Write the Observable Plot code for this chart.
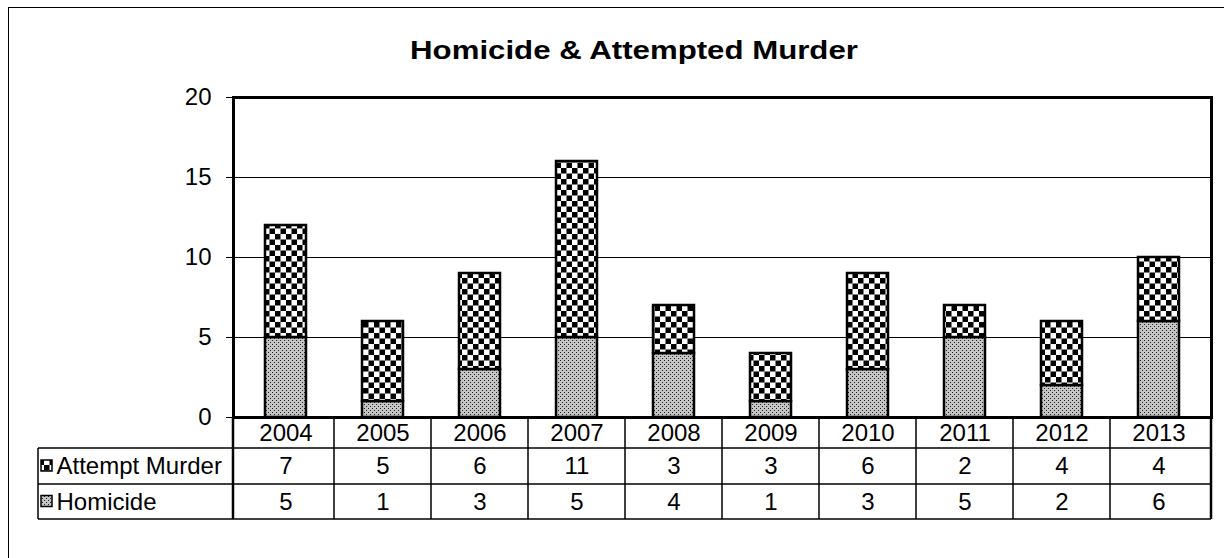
<!DOCTYPE html>
<html><head><meta charset="utf-8">
<script src="https://cdn.jsdelivr.net/npm/d3@7"></script>
<script src="https://cdn.jsdelivr.net/npm/@observablehq/plot@0.6"></script>
<style>
html,body{margin:0;padding:0;background:#fff;overflow:hidden;width:1224px;height:558px;}
#border{position:absolute;left:8px;top:7px;width:1300px;height:700px;border:1px solid #000;box-sizing:border-box;}
#title{position:absolute;top:35px;left:0;width:1268px;line-height:30px;text-align:center;font:bold 26px "Liberation Sans",Arial,sans-serif;color:#000;transform:scaleX(1.2);transform-origin:634px 50%;}
#chart{position:absolute;left:0;top:80px;}
</style></head>
<body>
<div id="border"></div>
<div id="title">Homicide &amp; Attempted Murder</div>
<div id="chart"></div>
<script>
const years = ["2004","2005","2006","2007","2008","2009","2010","2011","2012","2013"];
const seriesNames = ["Homicide","Attempt Murder"];
const homicide = [5,1,3,5,4,1,3,5,2,6];
const attempt = [7,5,6,11,3,3,6,2,4,4];
const yTicks = [0,5,10,15,20];
const gridValues = [5,10,15];
const tableLabels = ["Attempt Murder","Homicide"];

const rows = [];
years.forEach((y,i)=>{
  rows.push({year:y, series:"Homicide", value:homicide[i]});
  rows.push({year:y, series:"Attempt Murder", value:attempt[i]});
});
const homRows = rows.filter(d=>d.series==="Homicide");
const attRows = rows.filter(d=>d.series==="Attempt Murder");

// table row offsets below the frame (pixels)
const rowEdges = [0,31,67,102];
const rowCenter = i => (rowEdges[i]+rowEdges[i+1])/2;
const FONT = "Liberation Sans, Arial, sans-serif";
const FS = 24;

const chart = Plot.plot({
  width:1224, height:478,
  marginLeft:233, marginRight:13, marginTop:17, marginBottom:141,
  style:{fontFamily:FONT, fontSize:FS+"px", color:"#000", background:"transparent"},
  x:{domain:years, paddingInner:0.58, paddingOuter:0.29, axis:null},
  y:{domain:[0,20], axis:null},
  color:{type:"ordinal", domain:seriesNames, range:["url(#dots)","url(#checker)"]},
  marks:[
    Plot.ruleY(gridValues, {stroke:"#000", strokeWidth:1.2}),
    Plot.axisY({ticks:yTicks, tickSize:7, tickPadding:15, label:null, fontSize:FS, stroke:"#000"}),
    Plot.barY(rows, {x:"year", y:"value", fill:"series", stroke:"#000", strokeWidth:2.5, order:null}),
    Plot.frame({stroke:"#000", strokeWidth:3}),
    Plot.text(years, {x:d=>d, text:d=>d, frameAnchor:"bottom", lineAnchor:"middle", dy:rowCenter(0), fontSize:FS}),
    Plot.text(attRows, {x:"year", text:d=>String(d.value), frameAnchor:"bottom", lineAnchor:"middle", dy:rowCenter(1), fontSize:FS}),
    Plot.text(homRows, {x:"year", text:d=>String(d.value), frameAnchor:"bottom", lineAnchor:"middle", dy:rowCenter(2), fontSize:FS}),
    Plot.text([tableLabels[0]], {frameAnchor:"bottom-left", lineAnchor:"middle", text:d=>d, dx:-177, dy:rowCenter(1), textAnchor:"start", fontSize:FS}),
    Plot.text([tableLabels[1]], {frameAnchor:"bottom-left", lineAnchor:"middle", text:d=>d, dx:-177, dy:rowCenter(2), textAnchor:"start", fontSize:FS})
  ]
});
document.getElementById("chart").appendChild(chart);

// patterns
const svg = d3.select(chart);
const defs = svg.insert("defs", ":first-child");
const ck = defs.append("pattern").attr("id","checker").attr("patternUnits","userSpaceOnUse").attr("width",11).attr("height",11);
ck.append("rect").attr("width",11).attr("height",11).attr("fill","#fff");
ck.append("rect").attr("width",5.5).attr("height",5.5).attr("fill","#000");
ck.append("rect").attr("x",5.5).attr("y",5.5).attr("width",5.5).attr("height",5.5).attr("fill","#000");
const dt = defs.append("pattern").attr("id","dots").attr("patternUnits","userSpaceOnUse").attr("width",4).attr("height",4);
dt.append("rect").attr("width",4).attr("height",4).attr("fill","#c4c4c4");
dt.append("rect").attr("width",1).attr("height",1).attr("fill","#222");
dt.append("rect").attr("x",2).attr("y",2).attr("width",1).attr("height",1).attr("fill","#222");

// table grid lines using Plot's x scale
const sx = chart.scale("x");
const step = sx.step ?? (sx.range[1]-sx.range[0])/sx.domain.length;
const left = sx.range[0], right = sx.range[1];
const bottom = 478-141;
const labelLeft = left-195;
const g = svg.append("g").attr("stroke","#000").attr("fill","none");
[1,2,3].forEach(i=>{
  g.append("line").attr("x1",labelLeft).attr("x2",right).attr("y1",bottom+rowEdges[i]).attr("y2",bottom+rowEdges[i]).attr("stroke-width",1.5);
});
g.append("line").attr("x1",labelLeft).attr("x2",labelLeft).attr("y1",bottom+rowEdges[1]).attr("y2",bottom+rowEdges[3]).attr("stroke-width",1.5);
g.append("line").attr("x1",left).attr("x2",left).attr("y1",bottom).attr("y2",bottom+rowEdges[3]).attr("stroke-width",2.5);
g.append("line").attr("x1",right).attr("x2",right).attr("y1",bottom).attr("y2",bottom+rowEdges[3]).attr("stroke-width",2.5);
years.forEach((y,i)=>{
  if(i===0) return;
  const c = sx.apply(y)+sx.bandwidth/2 - step/2;
  g.append("line").attr("x1",c).attr("x2",c).attr("y1",bottom).attr("y2",bottom+rowEdges[3]).attr("stroke-width",1.5);
});
// legend swatches in label cells
const sw = svg.append("g");
["url(#checker)","url(#dots)"].forEach((f,i)=>{
  const cy = bottom+rowCenter(i+1);
  sw.append("rect").attr("x",labelLeft+3).attr("y",cy-6).attr("width",11).attr("height",11)
    .attr("fill",f).attr("stroke","#000").attr("stroke-width",1.5);
});
</script>
</body></html>
